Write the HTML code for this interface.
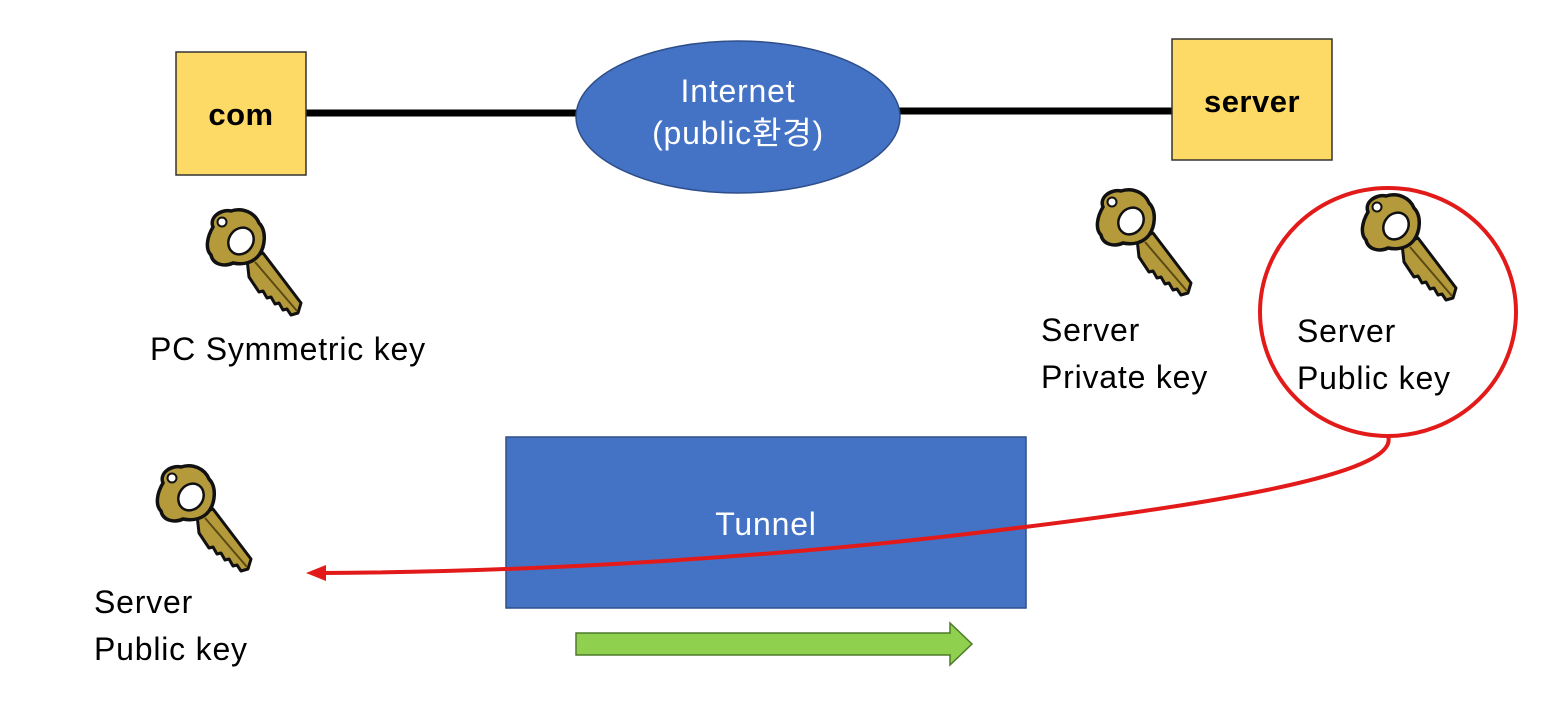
<!DOCTYPE html>
<html><head><meta charset="utf-8"><style>
body{margin:0;background:#fff;}
svg{display:block;}
text{font-family:"Liberation Sans","Noto Sans CJK KR",sans-serif;}
.t{font-size:32px;letter-spacing:0.8px;}
</style></head><body>
<svg width="1560" height="722" viewBox="0 0 1560 722" xmlns="http://www.w3.org/2000/svg">
<defs>
<g id="key">
  <path d="M44 52 L60 46 L98 96 L95 106 L88 108 L84 102 L80 103 L76 96 L72 97 L68 90 L64 91 L60 84 L56 85 L50 76 L46 70 Z" fill="#b59a3c" stroke="#111" stroke-width="3" stroke-linejoin="round"/>
  <line x1="52" y1="55" x2="94" y2="104" stroke="#5a4a12" stroke-width="2"/>
  <path d="M10 20 C6 10 18 2 28 4 C40 0 52 6 56 16 C64 24 62 40 56 48 C50 56 40 58 30 56 C22 60 10 58 8 48 C2 42 4 30 10 20 Z" fill="#b59a3c" stroke="#111" stroke-width="3.5"/>
  <ellipse cx="38" cy="34" rx="12" ry="14" transform="rotate(35 38 34)" fill="#fff" stroke="#111" stroke-width="2.5"/>
  <circle cx="19" cy="15" r="4.5" fill="#fff" stroke="#111" stroke-width="2"/>
</g>
</defs>
<line x1="306" y1="113" x2="578" y2="113" stroke="#000" stroke-width="7"/>
<line x1="898" y1="111" x2="1172" y2="111" stroke="#000" stroke-width="7"/>
<rect x="176" y="52" width="130" height="123" fill="#fdd966" stroke="#333" stroke-width="1.5"/>
<text x="241" y="125" font-size="31" font-weight="bold" text-anchor="middle" letter-spacing="0.5">com</text>
<rect x="1172" y="39" width="160" height="121" fill="#fdd966" stroke="#333" stroke-width="1.5"/>
<text x="1252" y="112" font-size="31" font-weight="bold" text-anchor="middle" letter-spacing="0.5">server</text>
<ellipse cx="738" cy="117" rx="162" ry="76" fill="#4472c4" stroke="#2f4f8a" stroke-width="1.5"/>
<text x="738" y="102" class="t" fill="#fff" text-anchor="middle">Internet</text>
<text x="738" y="144" class="t" fill="#fff" text-anchor="middle">(public환경)</text>
<use href="#key" x="203" y="207"/>
<use href="#key" x="1093" y="187"/>
<use href="#key" x="1358" y="192"/>
<use href="#key" x="153" y="463"/>
<text x="150" y="360" class="t">PC Symmetric key</text>
<text x="1041" y="341" class="t">Server</text>
<text x="1041" y="388" class="t">Private key</text>
<text x="1297" y="342" class="t">Server</text>
<text x="1297" y="389" class="t">Public key</text>
<text x="94" y="613" class="t">Server</text>
<text x="94" y="660" class="t">Public key</text>
<ellipse cx="1388" cy="312" rx="128" ry="124" fill="none" stroke="#e31a1a" stroke-width="4"/>
<rect x="506" y="437" width="520" height="171" fill="#4472c4" stroke="#2f4f8a" stroke-width="1.5"/>
<text x="766" y="535" class="t" fill="#fff" text-anchor="middle">Tunnel</text>
<path d="M1388 436 C1400 470 1250 500 1000 530 C800 555 550 572 322 573" fill="none" stroke="#e31a1a" stroke-width="4"/>
<polygon points="306,573 326,565 326,581" fill="#e31a1a"/>
<polygon points="576,633 950,633 950,623 972,644 950,665 950,655 576,655" fill="#8fd14f" stroke="#4f7a2a" stroke-width="1.5"/>
</svg>
</body></html>
